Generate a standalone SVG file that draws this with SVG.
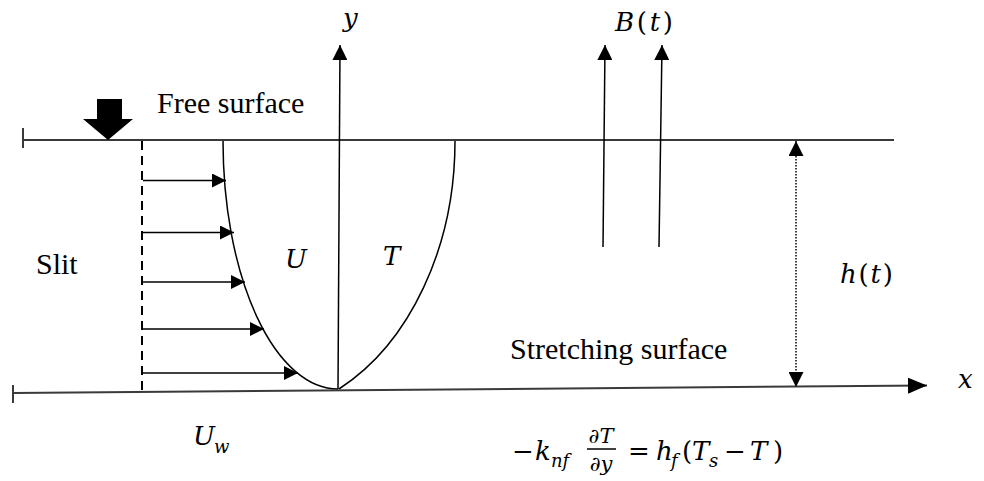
<svg xmlns="http://www.w3.org/2000/svg" width="984" height="481" viewBox="0 0 984 481">
  <style>
    .ln { stroke: #3a3a3a; stroke-width: 2; fill: none; }
    .cv { stroke: #000; stroke-width: 1.5; fill: none; }
    .ar { stroke: #000; stroke-width: 1.5; fill: none; }
    .txt { font-family: "Liberation Serif", "Times New Roman", serif; font-size: 30px; fill: #000; }
    .m { font-family: "DejaVu Serif", "Liberation Serif", serif; font-size: 26px; fill: #000; }
    .i { font-style: italic; }
    .sub { font-size: 18px; }
    .fr { font-size: 21px; }
  </style>
  <defs>
    <marker id="ah" markerUnits="userSpaceOnUse" markerWidth="15" markerHeight="15" viewBox="0 0 15 15" refX="15" refY="7.5" orient="auto-start-reverse">
      <path d="M0,0 L15,7.5 L0,15 Z" fill="#000"/>
    </marker>
    <marker id="ahs" markerUnits="userSpaceOnUse" markerWidth="14" markerHeight="14" viewBox="0 0 14 14" refX="14" refY="7" orient="auto">
      <path d="M0,0 L14,7 L0,14 Z" fill="#000"/>
    </marker>
    <marker id="ahx" markerUnits="userSpaceOnUse" markerWidth="19" markerHeight="16" viewBox="0 0 19 16" refX="19" refY="8" orient="auto">
      <path d="M0,0 L19,8 L0,16 Z" fill="#000"/>
    </marker>
  </defs>

  <rect width="984" height="481" fill="#fff"/>

  <g id="free-surface">
    <line class="ln" x1="23" y1="140" x2="894" y2="140"/>
    <line class="ln" x1="23" y1="128" x2="23" y2="148"/>
    <text class="txt" x="157" y="113">Free surface</text>
  </g>

  <g id="squeeze-arrow">
    <polygon points="97,99 122,99 122,119 133,119 108,140 83,119 97,119" fill="#000"/>
  </g>

  <g id="stretching-surface">
    <line class="ln" x1="13" y1="385" x2="13" y2="403"/>
    <text class="txt" x="510" y="359">Stretching surface</text>
  </g>

  <g id="slit">
    <line x1="142" y1="141" x2="142" y2="392" stroke="#000" stroke-width="2" stroke-dasharray="9,6"/>
    <text class="txt" x="36" y="274">Slit</text>
  </g>

  <g id="velocity-profile">
    <path class="cv" d="M223,141 A115,248 0 0 0 338,389"/>
    <text class="m i" x="285" y="268">U</text>
  </g>

  <g id="temperature-profile">
    <path class="cv" d="M339,389 A205,275 0 0 0 455,141"/>
    <text class="m i" x="383" y="265">T</text>
  </g>

  <g id="connectors">
    <line class="ln" x1="13" y1="393" x2="927" y2="385.5" marker-end="url(#ahx)"/>
    <line class="ar" x1="338" y1="389" x2="340" y2="45" marker-end="url(#ah)"/>
    <line class="ar" x1="603" y1="247" x2="605" y2="45" marker-end="url(#ah)"/>
    <line class="ar" x1="659" y1="247" x2="662" y2="45" marker-end="url(#ah)"/>
    <line class="ar" x1="143" y1="180.5" x2="226" y2="180.5" marker-end="url(#ahs)"/>
    <line class="ar" x1="143" y1="232.5" x2="234" y2="232.5" marker-end="url(#ahs)"/>
    <line class="ar" x1="143" y1="282" x2="245" y2="282" marker-end="url(#ahs)"/>
    <line class="ar" x1="143" y1="329" x2="264" y2="329" marker-end="url(#ahs)"/>
    <line class="ar" x1="143" y1="373" x2="298" y2="373" marker-end="url(#ahs)"/>
    <line x1="796" y1="141" x2="796" y2="387" stroke="#000" stroke-width="1.5" stroke-dasharray="1.5,1.5" marker-start="url(#ah)" marker-end="url(#ah)"/>
  </g>

  <g id="labels">
    <text class="m i" x="343" y="27">y</text>
    <text class="m" x="615" y="31" textLength="58" lengthAdjust="spacing"><tspan class="i">B</tspan>(<tspan class="i">t</tspan>)</text>
    <text class="m" x="840" y="283" textLength="53" lengthAdjust="spacing"><tspan class="i">h</tspan>(<tspan class="i">t</tspan>)</text>
    <text class="m i" x="958" y="388">x</text>
    <text class="m i" x="193" y="445">U</text>
    <text class="m i sub" x="214" y="453">w</text>
  </g>

  <g id="boundary-condition">
    <text class="m" x="512" y="460">−</text>
    <text class="m i" x="535" y="460">k</text>
    <text class="m i sub" x="551" y="467">nf</text>
    <text class="m fr" x="601" y="443" text-anchor="middle">∂<tspan class="i">T</tspan></text>
    <line x1="587" y1="449" x2="616" y2="449" stroke="#000" stroke-width="1.5"/>
    <text class="m fr" x="601" y="471" text-anchor="middle">∂<tspan class="i">y</tspan></text>
    <text class="m" x="639" y="460" text-anchor="middle">=</text>
    <text class="m i" x="656" y="460">h</text>
    <text class="m i sub" x="671" y="467">f</text>
    <text class="m" x="682" y="460">(</text>
    <text class="m i" x="692" y="460">T</text>
    <text class="m i sub" x="709" y="467">s</text>
    <text class="m" x="735" y="460" text-anchor="middle">−</text>
    <text class="m i" x="750" y="460">T</text>
    <text class="m" x="773" y="460">)</text>
  </g>
</svg>
